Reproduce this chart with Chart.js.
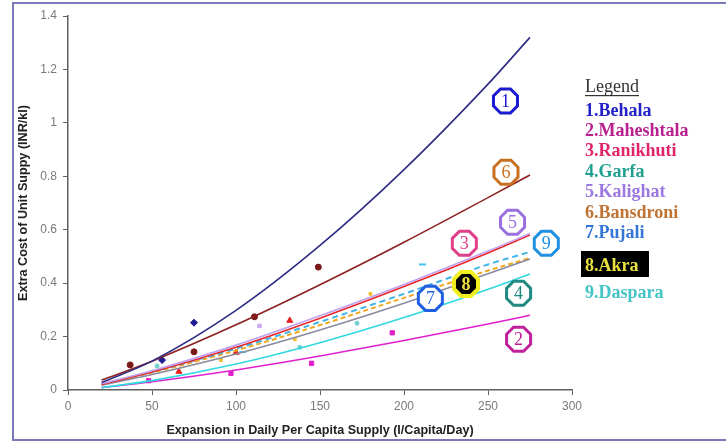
<!DOCTYPE html>
<html>
<head>
<meta charset="utf-8">
<script src="https://cdn.jsdelivr.net/npm/chart.js@4"></script>
<style>
  html, body { margin: 0; padding: 0; background: #fff; }
  #wrap { width: 726px; height: 442px; }
</style>
</head>
<body>
<div id="wrap"><canvas id="chart" width="726" height="442"></canvas></div>
<script>
// axis ticks
const xTicks = [0, 50, 100, 150, 200, 250, 300];
const yTickLabels = ['0', '0.2', '0.4', '0.6', '0.8', '1', '1.2', '1.4'];

// ward names (legend order)
const wardNames = ['1.Behala', '2.Maheshtala', '3.Ranikhuti', '4.Garfa', '5.Kalighat',
                   '6.Bansdroni', '7.Pujali', '8.Akra', '9.Daspara'];

// trend lines at these x values
const trendX = [20, 50, 100, 150, 200, 250, 275];
const behalaTrend     = [0.028, 0.108, 0.298, 0.541, 0.825, 1.145, 1.32];
const maheshtalaTrend = [0.009, 0.031, 0.075, 0.127, 0.185, 0.247, 0.28];
const ranikhutiTrend  = [0.021, 0.067, 0.160, 0.269, 0.387, 0.513, 0.58];
const garfaTrend      = [0.009, 0.035, 0.097, 0.177, 0.271, 0.377, 0.434];
const kalighatTrend   = [0.024, 0.072, 0.168, 0.278, 0.395, 0.520, 0.586];
const bansdroniTrend  = [0.037, 0.108, 0.244, 0.394, 0.553, 0.720, 0.805];
const pujaliTrend     = [0.018, 0.058, 0.135, 0.225, 0.325, 0.435, 0.49];
const akraTrend       = [0.020, 0.065, 0.148, 0.243, 0.345, 0.447, 0.494];
const dasparaTrend    = [0.022, 0.068, 0.155, 0.255, 0.360, 0.470, 0.517];

// observed points
const behalaX = [56, 75];               const behalaY = [0.112, 0.252];
const maheshtalaX = [48, 97, 145, 193]; const maheshtalaY = [0.035, 0.062, 0.100, 0.214];
const ranikhutiX = [66, 100, 132];      const ranikhutiY = [0.069, 0.140, 0.260];
const garfaX = [53, 138, 172];          const garfaY = [0.090, 0.160, 0.250];
const kalighatX = [114];                const kalighatY = [0.240];
const bansdroniX = [37, 75, 111, 149];  const bansdroniY = [0.094, 0.143, 0.274, 0.460];
const akraX = [91, 135, 180];           const akraY = [0.112, 0.190, 0.360];
const dasparaX = [104, 211];            const dasparaY = [0.142, 0.470];

// numbered badges next to the curves (data units)
const badgeNums = ['1', '6', '5', '3', '9', '8', '7', '4', '2'];
const badgeX = [260.4, 260.7, 264.6, 235.9, 284.7, 236.9, 215.7, 268.2, 268.2];
const badgeY = [1.082, 0.815, 0.628, 0.549, 0.549, 0.397, 0.343, 0.362, 0.19];

// styles
const legendColors = ['#2222c8', '#b8208e', '#e0246a', '#20a090', '#9a78e0',
                      '#c07434', '#3476d8', '#e8e040', '#44c4c4'];
const badgeColors = { '1': '#1a1ad0', '6': '#c87020', '5': '#9a70e0', '3': '#e0408a', '9': '#2090e0',
                      '8': '#f0f020', '7': '#2060e0', '4': '#208a80', '2': '#c0209a' };

const pts = (xs, ys) => xs.map((x, i) => ({ x: x, y: ys[i] }));

function trend(label, ys, color, dash, width) {
    return {
        type: 'line', label: label, data: pts(trendX, ys),
        borderColor: color, borderWidth: width || 1.6, borderDash: dash || [],
        pointRadius: 0, fill: false, tension: 0.4, cubicInterpolationMode: 'monotone'
    };
}
function marks(label, xs, ys, color, style, r) {
    return {
        type: 'scatter', label: label, data: pts(xs, ys),
        backgroundColor: color, borderColor: color, borderWidth: style === 'line' ? 2 : 1,
        pointStyle: style, pointRadius: r, pointHoverRadius: r
    };
}

const frameAndLegend = {
    id: 'frameAndLegend',
    beforeDraw(chart) {
        const ctx = chart.ctx;
        ctx.save();
        ctx.fillStyle = '#fff';
        ctx.fillRect(0, 0, chart.width, chart.height);
        ctx.strokeStyle = '#7a7ab8';
        ctx.lineWidth = 2;
        ctx.strokeRect(13, 3, 800, 437);
        ctx.restore();
    },
    afterDraw(chart) {
        const ctx = chart.ctx;
        const xs = chart.scales.x, ys = chart.scales.y;
        ctx.save();
        // badges
        badgeNums.forEach((n, i) => {
            const cx = xs.getPixelForValue(badgeX[i]);
            const cy = ys.getPixelForValue(badgeY[i]);
            const r = 13;
            ctx.beginPath();
            for (let k = 0; k < 8; k++) {
                const a = Math.PI / 8 + k * Math.PI / 4;
                const px = cx + r * Math.cos(a), py = cy + r * Math.sin(a);
                if (k === 0) ctx.moveTo(px, py); else ctx.lineTo(px, py);
            }
            ctx.closePath();
            ctx.fillStyle = n === '8' ? '#000' : '#fff';
            ctx.fill();
            ctx.lineWidth = n === '8' ? 4 : 3;
            ctx.strokeStyle = badgeColors[n];
            ctx.stroke();
            ctx.fillStyle = n === '8' ? '#f0e040' : badgeColors[n];
            ctx.font = (n === '8' ? 'bold ' : '') + '18px "Liberation Serif"';
            ctx.textAlign = 'center';
            ctx.textBaseline = 'middle';
            ctx.fillText(n, cx, cy + 1);
        });
        // legend
        ctx.textAlign = 'left';
        ctx.textBaseline = 'alphabetic';
        ctx.font = '18px "Liberation Serif"';
        ctx.fillStyle = '#333';
        ctx.fillText('Legend', 585, 92);
        const w = ctx.measureText('Legend').width;
        ctx.fillRect(585, 95, w, 1.2);
        const baselines = [115.5, 135.5, 156, 176.5, 196.5, 217.5, 238, 271, 297.5];
        ctx.font = 'bold 18px "Liberation Serif"';
        wardNames.forEach((name, i) => {
            if (i === 7) {
                ctx.fillStyle = '#000';
                ctx.fillRect(581, 251, 68, 26);
            }
            ctx.fillStyle = legendColors[i];
            ctx.fillText(name, 585, baselines[i]);
        });
        ctx.restore();
    }
};

new Chart(document.getElementById('chart'), {
    type: 'scatter',
    data: {
        datasets: [
            trend(wardNames[0], behalaTrend, '#2c2c84'),
            trend(wardNames[5], bansdroniTrend, '#8c2020'),
            trend(wardNames[4], kalighatTrend, '#c0a0f0'),
            trend(wardNames[2], ranikhutiTrend, '#e82828'),
            trend(wardNames[8], dasparaTrend, '#40b4e8', [6, 4], 2),
            trend(wardNames[6], pujaliTrend, '#8a8aa0'),
            trend(wardNames[7], akraTrend, '#f0a820', [5, 3], 2),
            trend(wardNames[3], garfaTrend, '#30d8e0'),
            trend(wardNames[1], maheshtalaTrend, '#e020d0'),
            marks(wardNames[0], behalaX, behalaY, '#1c1c94', 'rectRot', 3.5),
            marks(wardNames[5], bansdroniX, bansdroniY, '#7a1818', 'circle', 3),
            marks(wardNames[2], ranikhutiX, ranikhutiY, '#e82020', 'triangle', 3.5),
            marks(wardNames[1], maheshtalaX, maheshtalaY, '#e020c8', 'rect', 3),
            marks(wardNames[4], kalighatX, kalighatY, '#c8a8f0', 'rect', 2.5),
            marks(wardNames[7], akraX, akraY, '#f0c030', 'rect', 2),
            marks(wardNames[8], dasparaX, dasparaY, '#40c0f0', 'line', 3.5),
            marks(wardNames[3], garfaX, garfaY, '#70d0d0', 'circle', 2)
        ]
    },
    options: {
        responsive: false,
        animation: false,
        layout: { padding: { left: 12, right: 154, top: 16, bottom: 0 } },
        plugins: { legend: { display: false }, tooltip: { enabled: false } },
        scales: {
            x: {
                type: 'linear', min: 0, max: 300,
                afterBuildTicks: (s) => { s.ticks = xTicks.map(v => ({ value: v })); },
                afterFit: (s) => { s.height = 52; },
                grid: { display: true, drawOnChartArea: false, tickLength: 5, color: '#606060' },
                border: { color: '#606060', width: 1.5 },
                ticks: { color: '#7a7a7a', font: { family: 'Arial, "Liberation Sans"', size: 12 }, padding: 4 },
                title: {
                    display: true, text: 'Expansion in Daily Per Capita Supply (l/Capita/Day)',
                    color: '#222', font: { family: 'Arial, "Liberation Sans"', size: 12.6, weight: 'bold' }
                }
            },
            y: {
                type: 'linear', min: 0, max: 1.4,
                ticks: {
                    stepSize: 0.2, color: '#7a7a7a', padding: 6,
                    font: { family: 'Arial, "Liberation Sans"', size: 12 },
                    callback: (v, i) => yTickLabels[i]
                },
                afterFit: (s) => { s.width = 56; },
                grid: { display: true, drawOnChartArea: false, tickLength: 5, color: '#606060' },
                border: { color: '#606060', width: 1.5 },
                title: {
                    display: true, text: 'Extra Cost of Unit Suppy (INR/kl)',
                    color: '#222', font: { family: 'Arial, "Liberation Sans"', size: 12.6, weight: 'bold' }
                }
            }
        }
    },
    plugins: [frameAndLegend]
});
</script>
</body>
</html>
